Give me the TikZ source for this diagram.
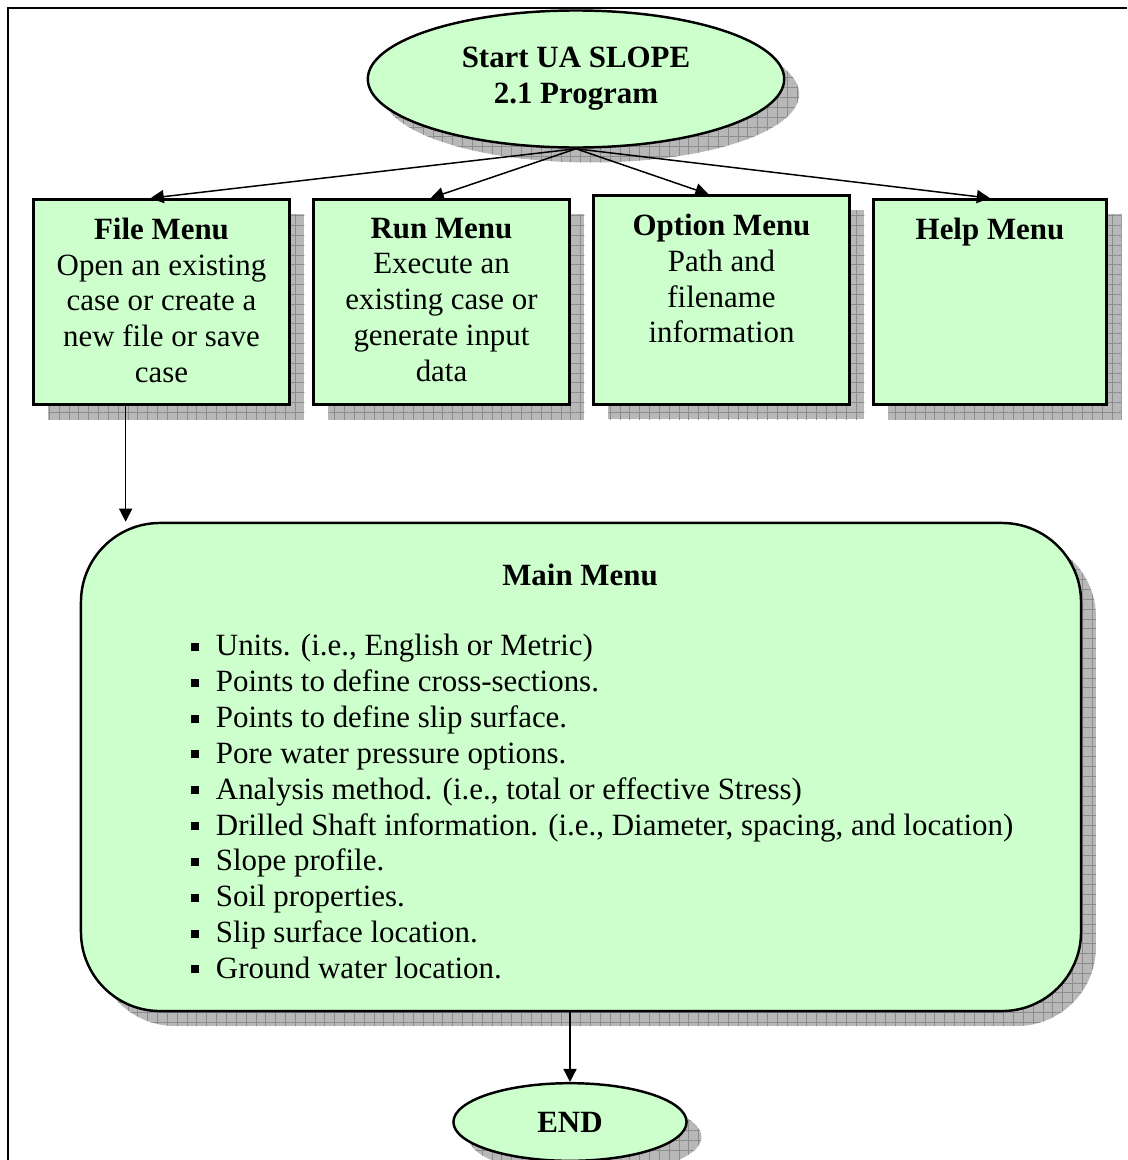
\documentclass[tikz,border=0pt]{standalone}
\usepackage{fontspec}
\setmainfont{Liberation Serif}
\usetikzlibrary{positioning,shapes.geometric,shadows,arrows.meta,patterns.meta}

\definecolor{menugreen}{HTML}{CCFFCC}
\newcommand\sq{\rule[2.8pt]{4.6pt}{4.6pt}\hspace{9.4pt}}

\tikzset{
  shadowed/.style={
    drop shadow={shadow xshift=8.5pt, shadow yshift=-8.5pt, opacity=1, fill=black!28},
    drop shadow={shadow xshift=8.5pt, shadow yshift=-8.5pt, opacity=1,
      pattern={Hatch[distance=5.6pt, line width=0.35pt]}, pattern color=black!45}},
  menubox/.style={draw, line width=1.4pt, fill=menugreen, shadowed, inner sep=0pt},
  oval/.style={menubox, ellipse, align=center},
  menutext/.style={align=center, inner sep=0pt},
  link/.style={-{Triangle[length=7.5pt, width=7.5pt]}, line width=0.85pt}
}

\begin{document}
\begin{tikzpicture}[x=0.02cm, y=-0.02cm, font=\fontsize{17.6}{20.4}\selectfont]
    \useasboundingbox (0,0) rectangle (1127,1160);
    \draw[line width=1.2pt] (8,1160) -- (8,8) -- (1127,8);

    \node[oval, minimum width=237pt, minimum height=78pt] (start) at (576,79)
        {\textbf{Start UA SLOPE}\\\textbf{2.1 Program}};

    \node[menubox, minimum width=145.7pt, minimum height=116.8pt] (file) at (161.5,302) {};
    \node[menutext, below=11pt of file.north] (filetxt)
        {\textbf{File Menu}\\Open an existing\\case or create a\\new file or save\\case};
    \node[menubox, minimum width=145.7pt, minimum height=116.8pt] (run) at (441.5,302) {};
    \node[menutext, below=11pt of run.north] (runtxt)
        {\textbf{Run Menu}\\Execute an\\existing case or\\generate input\\data};
    \node[menubox, minimum width=145.7pt, minimum height=119pt] (option) at (721.5,300) {};
    \node[menutext, below=11pt of option.north] (optiontxt)
        {\textbf{Option Menu}\\Path and\\filename\\information};
    \node[menubox, minimum width=132.7pt, minimum height=116.8pt] (help) at (990,302) {};
    \node[menutext, below=11pt of help.north] (helptxt) {\textbf{Help Menu}};

    \draw[link] (start.south) -- ([xshift=-6.2pt]file.north);
    \draw[link] (start.south) -- ([xshift=-6.2pt]run.north);
    \draw[link] (start.south) -- ([xshift=-7.4pt]option.north);
    \draw[link] (start.south) -- (help.north);

    \node[menubox, rounded corners=45pt, minimum width=569.2pt, minimum height=277.8pt] (main) at (581,767) {};
    \node (maintitle) at (580,575) {\textbf{Main Menu}};
    \node[align=left, inner sep=0pt, anchor=north west] (mainlist) at (191,634)
        {\sq Units. (i.e., English or Metric)\\
         \sq Points to define cross-sections.\\
         \sq Points to define slip surface.\\
         \sq Pore water pressure options.\\
         \sq Analysis method. (i.e., total or effective Stress)\\
         \sq Drilled Shaft information. (i.e., Diameter, spacing, and location)\\
         \sq Slope profile.\\
         \sq Soil properties.\\
         \sq Slip surface location.\\
         \sq Ground water location.};

    \draw[link] ([xshift=-20.4pt]file.south) -- ([xshift=-20.4pt]file.south |- main.north);

    \node[oval, minimum width=132.7pt, minimum height=44.2pt] (end) at (570,1122) {\textbf{END}};
    \draw[link] (main.south -| end.north) -- (end.north);
\end{tikzpicture}
\end{document}
